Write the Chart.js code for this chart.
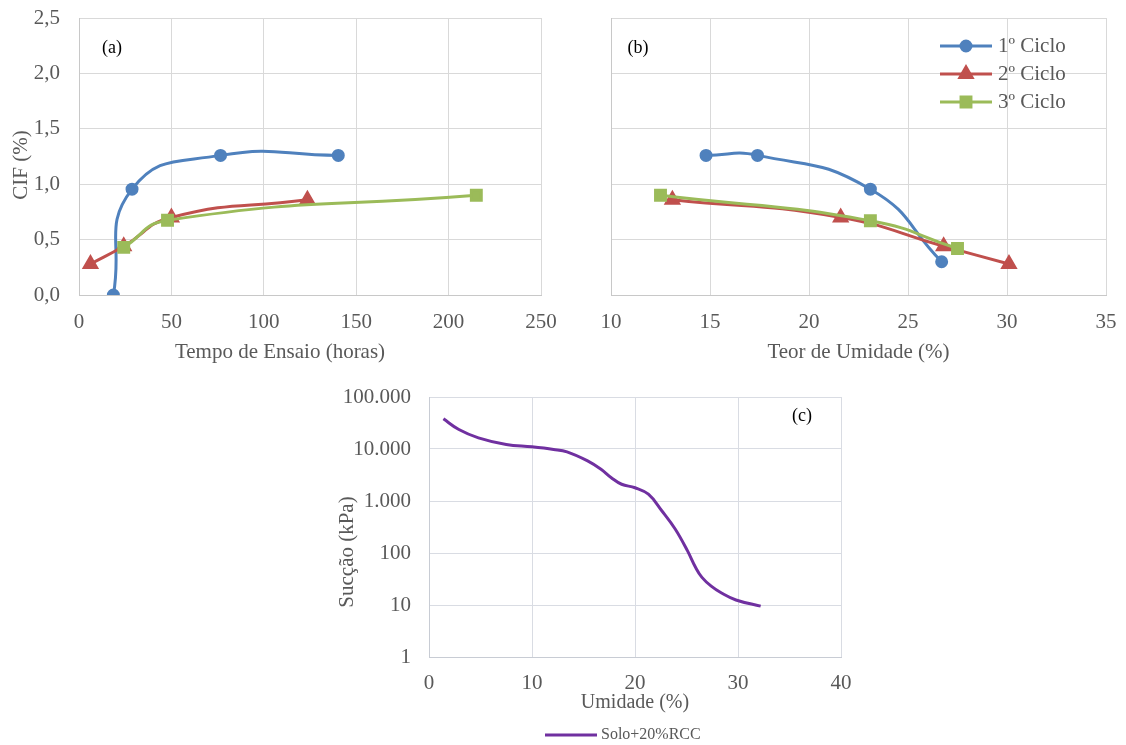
<!DOCTYPE html>
<html>
<head>
<meta charset="utf-8">
<script src="https://cdn.jsdelivr.net/npm/chart.js@4.4.1/dist/chart.umd.min.js"></script>
<style>
body{margin:0;background:#fff;width:1126px;height:745px;position:relative;overflow:hidden}
canvas{position:absolute}
</style>
</head>
<body>
<canvas id="grafA" width="560" height="370" style="left:0;top:0"></canvas>
<canvas id="grafB" width="566" height="370" style="left:560px;top:0"></canvas>
<canvas id="grafC" width="530" height="370" style="left:330px;top:375px"></canvas>
<script>
// series (a) e (b)
const ciclos=['1º Ciclo','2º Ciclo','3º Ciclo'];
const tempo1=[18.6,28.7,76.6,140.3];
const cifTempo1=[0,0.955,1.26,1.26];
const tempo2=[6.2,24.2,50,123.6];
const cifTempo2=[0.28,0.44,0.70,0.86];
const tempo3=[24.2,47.9,215];
const cifTempo3=[0.43,0.675,0.90];

const umid1=[14.8,17.4,23.1,26.7];
const cifUmid1=[1.26,1.26,0.955,0.30];
const umid2=[13.1,21.6,26.8,30.1];
const cifUmid2=[0.86,0.70,0.44,0.28];
const umid3=[12.5,23.1,27.5];
const cifUmid3=[0.90,0.67,0.42];

// curva de retenção (c)
const serieC='Solo+20%RCC';
const umidC=[1.4,2.9,4.8,7.5,10.0,12.1,13.4,15.4,16.7,17.7,18.7,20.0,21.3,22.6,23.9,25.1,25.9,26.5,27.4,28.4,29.8,32.2];
const succao=[38000,23700,16400,12200,11000,9800,8800,5900,4070,2800,2100,1800,1350,650,290,110,52,34,23,17,12.5,9.5];
const decadas=[1,10,100,1000,10000,100000];

const fonte='"Liberation Serif","Times New Roman",serif';
const cinza='#595959';
const grade='#d9d9d9';
const cores=['#4F81BD','#C0504D','#9BBB59'];
const estilos=['circle','triangle','rect'];
const raios=[5,7,7];

function pts(xs,ys){ return xs.map((x,i)=>({x:x,y:ys[i]})); }
function milhar(v){ return String(v).replace(/\B(?=(\d{3})+(?!\d))/g,'.'); }

const textos={
  id:'textos',
  afterDraw(chart,args,opts){
    const ctx=chart.ctx;
    (opts.itens||[]).forEach(t=>{
      ctx.save();
      ctx.font=t.fonte||('21px '+fonte);
      ctx.fillStyle=t.cor||cinza;
      ctx.textAlign='center';
      ctx.textBaseline='middle';
      ctx.translate(t.x,t.y);
      if(t.rot) ctx.rotate(t.rot);
      ctx.fillText(t.texto,0,0);
      ctx.restore();
    });
  }
};

const legenda={
  id:'legenda',
  afterDraw(chart,args,opts){
    if(!opts.x) return;
    const ctx=chart.ctx;
    chart.data.datasets.forEach((ds,i)=>{
      const y=opts.y+i*opts.passo;
      ctx.save();
      ctx.strokeStyle=ds.borderColor;
      ctx.lineWidth=ds.borderWidth;
      ctx.beginPath();
      ctx.moveTo(opts.x,y);
      ctx.lineTo(opts.x+opts.comp,y);
      ctx.stroke();
      if(ds.pointRadius>0){
        ctx.fillStyle=ds.pointBackgroundColor;
        ctx.strokeStyle=ds.pointBorderColor;
        Chart.helpers.drawPoint(ctx,{pointStyle:ds.pointStyle,radius:ds.pointRadius,rotation:0,borderWidth:1},opts.x+opts.comp/2,y);
      }
      ctx.font=opts.fonte;
      ctx.fillStyle=cinza;
      ctx.textAlign='left';
      ctx.textBaseline='middle';
      ctx.fillText(ds.label,opts.x+opts.comp+opts.gap,y);
      ctx.restore();
    });
  }
};

Chart.register(textos,legenda);

function serie(i,xs,ys){
  return {
    label:ciclos[i],
    data:pts(xs,ys),
    borderColor:cores[i],
    backgroundColor:cores[i],
    pointBackgroundColor:cores[i],
    pointBorderColor:cores[i],
    pointStyle:estilos[i],
    pointRadius:raios[i],
    pointHoverRadius:raios[i],
    borderWidth:3,
    showLine:true,
    tension:0.5,
    order:2-i
  };
}

const tickFont={family:fonte,size:21};

// tick marks invisiveis so para afastar os rotulos do eixo
function gradeEixo(cor,afasta){
  return {color:cor,drawTicks:true,tickLength:afasta,tickColor:'rgba(0,0,0,0)'};
}

function eixoCif(largura,mostra){
  return {
    min:0,max:2.5,
    ticks:{display:mostra,stepSize:0.5,padding:3,color:cinza,font:tickFont,
      callback:v=>v.toFixed(1).replace('.',',')},
    grid:gradeEixo(grade,16),
    border:{color:'#c8c8c8'},
    afterFit:s=>{s.width=largura;}
  };
}

const base={
  responsive:false,
  animation:false,
  devicePixelRatio:1
};

// (a) CIF x tempo
new Chart(document.getElementById('grafA'),{
  type:'scatter',
  data:{datasets:[serie(0,tempo1,cifTempo1),serie(1,tempo2,cifTempo2),serie(2,tempo3,cifTempo3)]},
  options:Object.assign({},base,{
    layout:{padding:{top:18,right:19,left:0,bottom:0}},
    scales:{
      x:{min:0,max:250,
        ticks:{stepSize:50,padding:3,color:cinza,font:tickFont},
        grid:gradeEixo(grade,12),
        border:{color:'#c8c8c8'},
        afterFit:s=>{s.height=75;}},
      y:eixoCif(79,true)
    },
    plugins:{
      legend:{display:false},
      tooltip:{enabled:false},
      textos:{itens:[
        {texto:'CIF (%)',x:21,y:165,rot:-Math.PI/2},
        {texto:'Tempo de Ensaio (horas)',x:280,y:352},
        {texto:'(a)',x:112,y:48,fonte:'18px '+fonte,cor:'#000'}
      ]}
    }
  })
});

// (b) CIF x teor de umidade
new Chart(document.getElementById('grafB'),{
  type:'scatter',
  data:{datasets:[serie(0,umid1,cifUmid1),serie(1,umid2,cifUmid2),serie(2,umid3,cifUmid3)]},
  options:Object.assign({},base,{
    layout:{padding:{top:18,right:20,left:0,bottom:0}},
    scales:{
      x:{min:10,max:35,
        ticks:{stepSize:5,padding:3,color:cinza,font:tickFont},
        grid:gradeEixo(grade,12),
        border:{color:'#c8c8c8'},
        title:{display:true,text:'Teor de Umidade (%)',color:cinza,font:tickFont,padding:{top:0,bottom:5}},
        afterFit:s=>{s.height=75;}},
      y:eixoCif(51,false)
    },
    plugins:{
      legend:{display:false},
      tooltip:{enabled:false},
      legenda:{x:380,y:46,passo:28,comp:52,gap:6,fonte:'21px '+fonte},
      textos:{itens:[
        {texto:'(b)',x:78,y:48,fonte:'18px '+fonte,cor:'#000'}
      ]}
    }
  })
});

// (c) curva de retenção
new Chart(document.getElementById('grafC'),{
  type:'scatter',
  data:{datasets:[{
    label:serieC,
    data:pts(umidC,succao),
    borderColor:'#7030A0',
    backgroundColor:'#7030A0',
    borderWidth:3,
    pointRadius:0,
    pointHoverRadius:0,
    showLine:true,
    tension:0.4
  }]},
  options:Object.assign({},base,{
    layout:{padding:{top:22,right:19,left:0,bottom:0}},
    scales:{
      x:{min:0,max:40,
        ticks:{stepSize:10,padding:3,color:cinza,font:tickFont},
        grid:gradeEixo('#d9dce3',11),
        border:{color:'#c8ccd4'},
        title:{display:true,text:'Umidade (%)',color:cinza,font:{family:fonte,size:20},padding:{top:0,bottom:30}},
        afterFit:s=>{s.height=88;}},
      y:{type:'logarithmic',min:1,max:100000,
        afterBuildTicks:s=>{s.ticks=decadas.map(v=>({value:v}));},
        ticks:{padding:3,color:cinza,font:tickFont,callback:v=>milhar(v)},
        grid:gradeEixo('#d9dce3',15),
        border:{color:'#c8ccd4'},
        afterFit:s=>{s.width=99;}}
    },
    plugins:{
      legend:{display:false},
      tooltip:{enabled:false},
      legenda:{x:215,y:360,passo:0,comp:52,gap:4,fonte:'16px '+fonte},
      textos:{itens:[
        {texto:'Sucção (kPa)',x:17,y:177,rot:-Math.PI/2},
        {texto:'(c)',x:472,y:41,fonte:'18px '+fonte,cor:'#000'}
      ]}
    }
  })
});
</script>
</body>
</html>
